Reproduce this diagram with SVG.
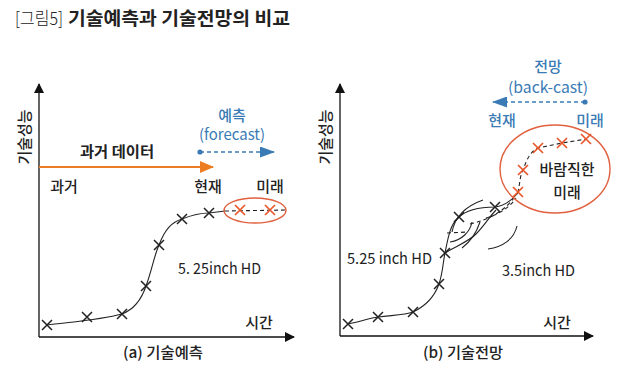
<svg xmlns="http://www.w3.org/2000/svg" width="640" height="370" viewBox="0 0 640 370">
<style>
text{font-family:"Noto Sans CJK KR","Noto Sans",sans-serif;fill:#222;}
.lbl{font-size:15px;font-weight:500;}
.lat{font-weight:400;}
.bold{font-weight:700;}
.blue{fill:#3B7BB5;}
.ax{stroke:#111;stroke-width:1.3;fill:none;}
.crv{stroke:#222;stroke-width:1.1;fill:none;}
.dash{stroke:#222;stroke-width:1.1;fill:none;stroke-dasharray:4,3;}
.xm{stroke:#222;stroke-width:1.5;fill:none;}
.xo{stroke:#E8582B;stroke-width:1.7;fill:none;}
.ell{stroke:#E0603F;stroke-width:1.4;fill:none;}
</style>
<defs>
<path id="xk" d="M-5,-5L5,5M-5,5L5,-5"/>
<marker id="ah" markerWidth="10" markerHeight="10" refX="9" refY="5" orient="auto" markerUnits="userSpaceOnUse"><path d="M0,0L10,5L0,10Z" fill="#111"/></marker>
<marker id="ahO" markerWidth="14" markerHeight="12" refX="13" refY="6" orient="auto" markerUnits="userSpaceOnUse"><path d="M0,0L14,6L0,12Z" fill="#ED7D22"/></marker>
<marker id="ahB" markerWidth="15" markerHeight="11" refX="14" refY="5.5" orient="auto" markerUnits="userSpaceOnUse"><path d="M0,0L15,5.5L0,11Z" fill="#3B7BB5"/></marker>
</defs>

<g id="title">
<text x="15" y="25" font-size="18" font-weight="300" textLength="48" lengthAdjust="spacingAndGlyphs">[그림5]</text>
<text x="68" y="25" font-size="18" font-weight="bold" textLength="222" lengthAdjust="spacingAndGlyphs">기술예측과 기술전망의 비교</text>
</g>

<g id="connectors">
<line class="ax" x1="39" y1="337" x2="39" y2="84" marker-end="url(#ah)"/>
<line class="ax" x1="39" y1="337" x2="294" y2="337" marker-end="url(#ah)"/>
<line x1="39" y1="167" x2="213" y2="167" stroke="#ED7D22" stroke-width="2.2" marker-end="url(#ahO)"/>
<circle cx="200" cy="152" r="2.6" fill="#3B7BB5"/>
<line x1="200" y1="152" x2="274" y2="152" stroke="#3B7BB5" stroke-width="1.6" stroke-dasharray="4,3" marker-end="url(#ahB)"/>
<path class="crv" d="M47,325 C70,322 100,320 122,314 C135,309 142,298 146,286 C152,270 154,256 159,245 C165,229 172,222 182,219 C192,215 200,213 209,213 L225,211"/>
<path class="dash" d="M225,211 L287,210"/>

<line class="ax" x1="340" y1="336" x2="340" y2="84" marker-end="url(#ah)"/>
<line class="ax" x1="340" y1="336" x2="593" y2="336" marker-end="url(#ah)"/>
<circle cx="585" cy="102" r="2.6" fill="#3B7BB5"/>
<line x1="585" y1="102" x2="493" y2="102" stroke="#3B7BB5" stroke-width="1.6" stroke-dasharray="4,3" marker-end="url(#ahB)"/>
<path class="crv" d="M348,324 C362,321 370,318 378,317 C395,315 405,315 413,312 C428,305 435,295 439,284 C443,272 443,262 445,253 C448,238 450,225 458,218 C466,210 480,207 495,207 C505,206 512,200 518,193"/>
<path class="dash" d="M518,193 C520,182 520,176 523,170 C527,159 530,152 538,148 L562,143 L587,139"/>
<path class="crv" stroke-width="0.9" d="M452,232 C455,216 466,206 483,200"/>
<path class="crv" stroke-width="0.9" d="M445,253 C456,246 468,242 476,234 C484,226 490,216 496,210"/>
<path class="crv" stroke-width="0.9" d="M462,248 C470,242 476,234 480,222"/>
<path class="crv" stroke-width="0.9" d="M450,242 C462,240 470,232 472,222"/>
<path class="crv" stroke-width="0.9" d="M488,249 C503,247 514,239 517,226"/>
<path class="dash" stroke-width="0.9" d="M447,233 L468,232"/>
<path class="dash" stroke-width="0.9" d="M470,224 C488,220 503,212 514,198"/>
<path class="dash" stroke-width="0.9" d="M486,218 C500,214 510,207 516,198"/>
</g>

<g id="panel-a">
<text class="lbl" transform="translate(30,137) rotate(-90)" text-anchor="middle" font-size="13">기술성능</text>
<text class="lbl bold" x="117" y="157" text-anchor="middle" textLength="74" lengthAdjust="spacingAndGlyphs">과거 데이터</text>
<text class="lbl blue" x="232" y="121" text-anchor="middle">예측</text>
<text class="lbl blue lat" x="232" y="140" text-anchor="middle" textLength="66" lengthAdjust="spacingAndGlyphs">(forecast)</text>
<text class="lbl" x="64" y="192" text-anchor="middle">과거</text>
<text class="lbl" x="208" y="192" text-anchor="middle">현재</text>
<text class="lbl" x="270" y="192" text-anchor="middle">미래</text>
<text class="lbl lat" x="178" y="274" textLength="83" lengthAdjust="spacingAndGlyphs">5. 25inch HD</text>
<text class="lbl" x="259" y="328" text-anchor="middle">시간</text>
<text class="lbl" x="163" y="358" text-anchor="middle" textLength="80" lengthAdjust="spacingAndGlyphs">(a) 기술예측</text>
<g id="marks-a">
<use href="#xk" class="xm" x="47" y="325"/>
<use href="#xk" class="xm" x="87" y="317"/>
<use href="#xk" class="xm" x="122" y="314"/>
<use href="#xk" class="xm" x="146" y="286"/>
<use href="#xk" class="xm" x="159" y="245"/>
<use href="#xk" class="xm" x="182" y="219"/>
<use href="#xk" class="xm" x="209" y="213"/>
</g>
<g id="future-a">
<ellipse class="ell" cx="255" cy="210.5" rx="31" ry="12.5"/>
<use href="#xk" class="xo" x="240" y="210"/>
<use href="#xk" class="xo" x="270" y="210"/>
</g>
</g>

<g id="panel-b">
<text class="lbl" transform="translate(331,137) rotate(-90)" text-anchor="middle" font-size="13">기술성능</text>
<text class="lbl blue" x="548" y="72" text-anchor="middle">전망</text>
<text class="lbl blue lat" x="548" y="93" text-anchor="middle" textLength="80" lengthAdjust="spacingAndGlyphs">(back-cast)</text>
<text class="lbl blue" x="502" y="126" text-anchor="middle">현재</text>
<text class="lbl blue" x="590" y="126" text-anchor="middle">미래</text>
<text class="lbl lat" x="347" y="264" textLength="85" lengthAdjust="spacingAndGlyphs">5.25 inch HD</text>
<text class="lbl lat" x="502" y="276" textLength="73" lengthAdjust="spacingAndGlyphs">3.5inch HD</text>
<text class="lbl" x="557" y="328" text-anchor="middle">시간</text>
<text class="lbl" x="463" y="358" text-anchor="middle" textLength="80" lengthAdjust="spacingAndGlyphs">(b) 기술전망</text>
<g id="marks-b">
<use href="#xk" class="xm" x="348" y="324"/>
<use href="#xk" class="xm" x="378" y="317"/>
<use href="#xk" class="xm" x="413" y="312"/>
<use href="#xk" class="xm" x="439" y="284"/>
<use href="#xk" class="xm" x="445" y="253"/>
<use href="#xk" class="xm" x="459" y="217"/>
<use href="#xk" class="xm" x="495" y="207"/>
</g>
<g id="future-b">
<ellipse class="ell" cx="555" cy="169" rx="55" ry="44"/>
<use href="#xk" class="xo" x="518" y="192"/>
<use href="#xk" class="xo" x="523" y="170"/>
<use href="#xk" class="xo" x="538" y="148"/>
<use href="#xk" class="xo" x="562" y="143"/>
<use href="#xk" class="xo" x="586" y="139"/>
<text class="lbl" x="567" y="175" text-anchor="middle">바람직한</text>
<text class="lbl" x="567" y="198" text-anchor="middle">미래</text>
</g>
</g>
</svg>
